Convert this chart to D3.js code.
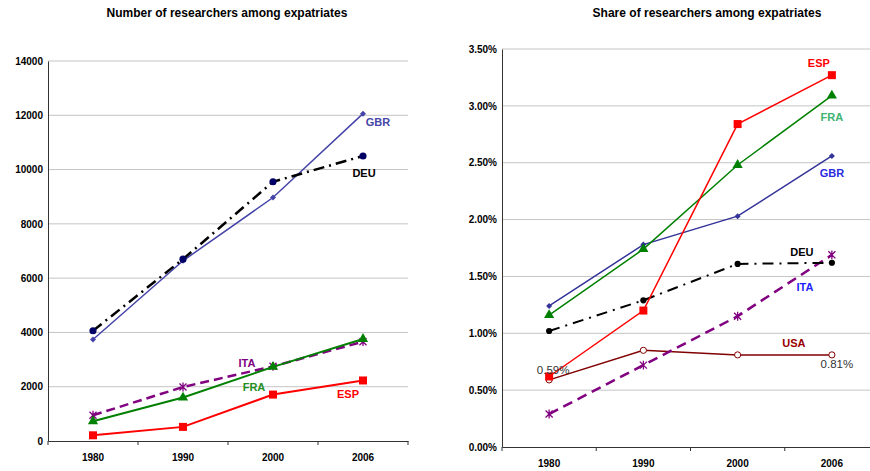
<!DOCTYPE html>
<html>
<head>
<meta charset="utf-8">
<script src="https://cdn.jsdelivr.net/npm/d3@7"></script>
<style>
  body { margin: 0; background: #fff; }
  svg { display: block; font-family: "Liberation Sans", Arial, sans-serif; }
</style>
</head>
<body>
<div id="chart"></div>
<script>
const years = ["1980", "1990", "2000", "2006"];

// left: number of researchers among expatriates
const countGBR = [3740, 6640, 8970, 12060];
const countDEU = [4060, 6700, 9550, 10500];
const countITA = [950, 1990, 2750, 3660];
const countFRA = [730, 1600, 2730, 3760];
const countESP = [210, 520, 1710, 2230];
const countTicks = [0, 2000, 4000, 6000, 8000, 10000, 12000, 14000];

// right: share of researchers among expatriates (%)
const shareESP = [0.62, 1.20, 2.84, 3.27];
const shareFRA = [1.16, 1.74, 2.48, 3.09];
const shareGBR = [1.24, 1.78, 2.03, 2.56];
const shareDEU = [1.02, 1.29, 1.61, 1.62];
const shareITA = [0.29, 0.72, 1.15, 1.69];
const shareUSA = [0.59, 0.85, 0.81, 0.81];
const shareTicks = [0, 0.5, 1, 1.5, 2, 2.5, 3, 3.5];

const W = 870, H = 471;

const asterisk = {
  draw(ctx, size) {
    const r = Math.sqrt(size) / 2;
    ctx.moveTo(-r, -r); ctx.lineTo(r, r);
    ctx.moveTo(r, -r); ctx.lineTo(-r, r);
    ctx.moveTo(0, -r * 1.25); ctx.lineTo(0, r * 1.25);
  }
};

// small square diamond, like excel's marker
const diamond = {
  draw(ctx, size) {
    const r = Math.sqrt(size) / 2;
    ctx.moveTo(0, -r); ctx.lineTo(r, 0); ctx.lineTo(0, r); ctx.lineTo(-r, 0);
    ctx.closePath();
  }
};

const svg = d3.select("#chart").append("svg")
  .attr("width", W)
  .attr("height", H);

function drawChart(opt) {
  const g = svg.append("g");

  const x = d3.scaleBand()
    .domain(years)
    .range([opt.left, opt.right]);

  const y = d3.scaleLinear()
    .domain([0, d3.max(opt.ticks)])
    .range([opt.bottom, opt.top]);

  // title
  g.append("text")
    .attr("x", opt.titleX)
    .attr("y", 17)
    .attr("text-anchor", "middle")
    .style("font-size", "12px")
    .style("font-weight", "bold")
    .text(opt.title);

  // gridlines
  g.append("g")
    .selectAll("line")
    .data(opt.ticks.slice(1))
    .join("line")
    .attr("x1", opt.left)
    .attr("x2", opt.right)
    .attr("y1", d => y(d))
    .attr("y2", d => y(d))
    .attr("stroke", "#c4c4c4")
    .attr("stroke-width", 1);

  // y axis
  const yAxis = g.append("g")
    .attr("transform", `translate(${opt.left},0)`)
    .call(d3.axisLeft(y).tickValues(opt.ticks).tickSize(0).tickPadding(5).tickFormat(opt.fmt));
  yAxis.select(".domain").attr("stroke", "#333");
  yAxis.selectAll("text")
    .style("font-size", "10px")
    .style("font-weight", "bold")
    .style("font-family", "'Liberation Sans', Arial, sans-serif")
    .attr("fill", "#000");

  // x axis
  const xAxis = g.append("g")
    .attr("transform", `translate(0,${opt.bottom})`)
    .call(d3.axisBottom(x).tickSize(0).tickPadding(13));
  xAxis.select(".domain").attr("stroke", "#333");
  xAxis.selectAll("text")
    .style("font-size", "10px")
    .style("font-weight", "bold")
    .style("font-family", "'Liberation Sans', Arial, sans-serif")
    .attr("fill", "#000");
  // boundary ticks between categories
  xAxis.append("g")
    .selectAll("line")
    .data(years.concat(["end"]))
    .join("line")
    .attr("x1", (d, i) => opt.left + i * x.step())
    .attr("x2", (d, i) => opt.left + i * x.step())
    .attr("y1", 0)
    .attr("y2", 4)
    .attr("stroke", "#333");

  const line = d3.line()
    .x((d, i) => x(years[i]) + x.bandwidth() / 2)
    .y(d => y(d));

  opt.series.forEach(s => {
    g.append("path")
      .datum(s.values)
      .attr("d", line)
      .attr("fill", "none")
      .attr("stroke", s.color)
      .attr("stroke-width", s.width)
      .attr("stroke-dasharray", s.dash || null);

    g.append("g")
      .selectAll("path")
      .data(s.values)
      .join("path")
      .attr("transform", (d, i) => `translate(${x(years[i]) + x.bandwidth() / 2},${y(d)})`)
      .attr("d", d3.symbol().type(s.symbol).size(s.size))
      .attr("fill", s.symbol === asterisk ? "none" : (s.fill || s.markerColor || s.color))
      .attr("stroke", s.symbol === asterisk || s.fill ? (s.markerColor || s.color) : "none")
      .attr("stroke-width", s.symbol === asterisk ? 1.3 : 1);
  });

  // series labels
  g.append("g")
    .selectAll("text")
    .data(opt.labels)
    .join("text")
    .attr("x", d => x(d.year) + x.bandwidth() / 2 + d.dx)
    .attr("y", d => y(d.at))
    .attr("dy", "0.35em")
    .attr("text-anchor", "middle")
    .style("font-size", d => d.plain ? "11.5px" : "11px")
    .style("font-weight", d => d.plain ? "normal" : "bold")
    .attr("fill", d => d.color)
    .text(d => d.text);
}

drawChart({
  title: "Number of researchers among expatriates",
  titleX: 227,
  left: 48, right: 408, top: 61, bottom: 441,
  ticks: countTicks,
  fmt: d3.format("d"),
  series: [
    { values: countGBR, color: "#4444a8", width: 1.5, symbol: diamond, size: 36 },
    { values: countDEU, color: "#000", markerColor: "#000066", width: 2.5, dash: "11,5,2,5", symbol: d3.symbolCircle, size: 40 },
    { values: countITA, color: "#800080", width: 2.5, dash: "9,5", symbol: asterisk, size: 50 },
    { values: countFRA, color: "#008000", width: 2, symbol: d3.symbolTriangle, size: 45 },
    { values: countESP, color: "#ff0000", width: 2, symbol: d3.symbolSquare, size: 64 }
  ],
  labels: [
    { text: "GBR", year: "2006", at: 11760, dx: 15, color: "#4646a8" },
    { text: "DEU", year: "2006", at: 9870, dx: 1, color: "#000" },
    { text: "ITA", year: "1990", at: 2880, dx: 64, color: "#800080" },
    { text: "FRA", year: "1990", at: 1990, dx: 71, color: "#1f8f1f" },
    { text: "ESP", year: "2006", at: 1720, dx: -15, color: "#ff0000" }
  ]
});

drawChart({
  title: "Share of researchers among expatriates",
  titleX: 707,
  left: 502, right: 879, top: 49, bottom: 447,
  ticks: shareTicks,
  fmt: d => d.toFixed(2) + "%",
  series: [
    { values: shareUSA, color: "#800000", width: 1.5, symbol: d3.symbolCircle, size: 30, fill: "#fff" },
    { values: shareITA, color: "#800080", width: 2.5, dash: "10,6", symbol: asterisk, size: 50 },
    { values: shareDEU, color: "#000", width: 2, dash: "11,6,2,6", symbol: d3.symbolCircle, size: 30 },
    { values: shareGBR, color: "#333399", width: 1.5, symbol: diamond, size: 36 },
    { values: shareFRA, color: "#008000", width: 1.5, symbol: d3.symbolTriangle, size: 45 },
    { values: shareESP, color: "#ff0000", width: 1.5, symbol: d3.symbolSquare, size: 64 }
  ],
  labels: [
    { text: "ESP", year: "2006", at: 3.377, dx: -13, color: "#ff0000" },
    { text: "FRA", year: "2006", at: 2.903, dx: 0, color: "#3cb371" },
    { text: "GBR", year: "2006", at: 2.404, dx: 0, color: "#2a2ae0" },
    { text: "DEU", year: "2006", at: 1.71, dx: -30, color: "#000" },
    { text: "ITA", year: "2006", at: 1.406, dx: -27, color: "#1f1fff" },
    { text: "USA", year: "2006", at: 0.914, dx: -38, color: "#990000" },
    { text: "0.59%", year: "1980", at: 0.679, dx: 4, color: "#333", plain: true },
    { text: "0.81%", year: "2006", at: 0.729, dx: 5, color: "#333", plain: true }
  ]
});
</script>
</body>
</html>
